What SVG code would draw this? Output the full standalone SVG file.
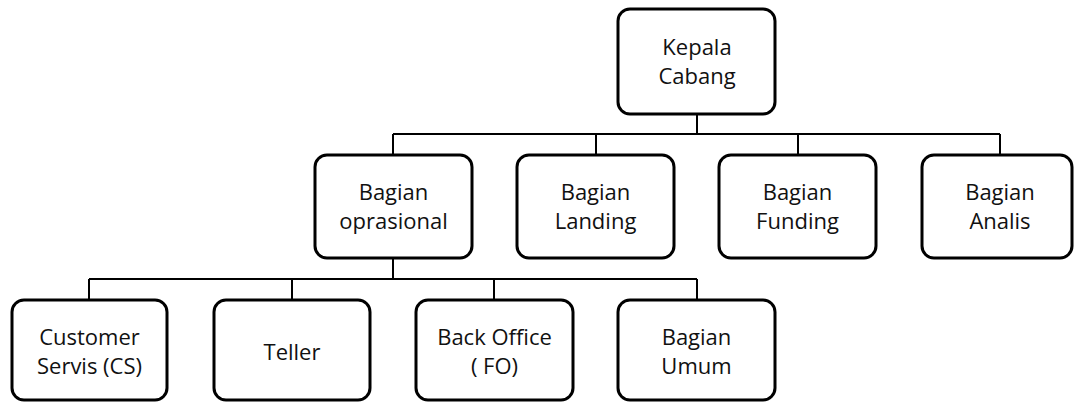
<svg xmlns="http://www.w3.org/2000/svg" width="1074" height="402" viewBox="0 0 1074 402">
<style>
.box{fill:#fff;stroke:#000;stroke-width:3}
.t{font-family:"Open Sans","Noto Sans",sans-serif;font-size:22px;fill:#111;text-anchor:middle}
.c{fill:none;stroke:#000;stroke-width:2}
</style>
<rect width="1074" height="402" fill="#fff"/>
<g id="connectors">
<path class="c" d="M697 114V134M393 134H1000M393 134V155M596 134V155M798 134V155M1000 134V155"/>
<path class="c" d="M393 258V279M89 279H697M89 279V300M292 279V300M494 279V300M697 279V300"/>
</g>
<g id="kepala"><rect class="box" x="618" y="9" width="157" height="105" rx="12"/><text class="t" x="697" y="55">Kepala</text><text class="t" x="697" y="84">Cabang</text></g>
<g id="oprasional"><rect class="box" x="315" y="155" width="157" height="103" rx="12"/><text class="t" x="393.5" y="200">Bagian</text><text class="t" x="393.5" y="229">oprasional</text></g>
<g id="landing"><rect class="box" x="517" y="155" width="157" height="103" rx="12"/><text class="t" x="595.5" y="200">Bagian</text><text class="t" x="595.5" y="229">Landing</text></g>
<g id="funding"><rect class="box" x="719" y="155" width="157" height="103" rx="12"/><text class="t" x="797.5" y="200">Bagian</text><text class="t" x="797.5" y="229">Funding</text></g>
<g id="analis"><rect class="box" x="922" y="155" width="150" height="103" rx="12"/><text class="t" x="1000" y="200">Bagian</text><text class="t" x="1000" y="229">Analis</text></g>
<g id="cs"><rect class="box" x="12" y="300" width="155" height="100" rx="12"/><text class="t" x="89.5" y="345">Customer</text><text class="t" x="89.5" y="374">Servis (CS)</text></g>
<g id="teller"><rect class="box" x="214" y="300" width="156" height="100" rx="12"/><text class="t" x="292" y="360">Teller</text></g>
<g id="backoffice"><rect class="box" x="416" y="300" width="157" height="100" rx="12"/><text class="t" x="494.5" y="345">Back Office</text><text class="t" x="494.5" y="374">( FO)</text></g>
<g id="umum"><rect class="box" x="618" y="300" width="157" height="100" rx="12"/><text class="t" x="696.5" y="345">Bagian</text><text class="t" x="696.5" y="374">Umum</text></g>
</svg>
